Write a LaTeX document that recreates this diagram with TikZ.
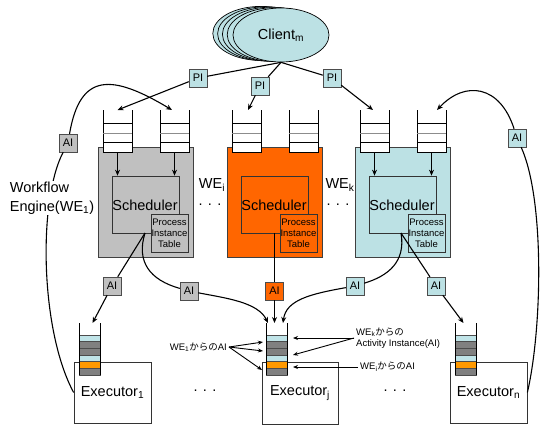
\documentclass[tikz,border=0pt]{standalone}
\usepackage{fontspec}
\setmainfont{Liberation Sans}
\newfontfamily\jpfont{Noto Sans CJK JP}
\usetikzlibrary{arrows.meta,shapes.geometric}

\definecolor{wegray}{HTML}{C0C0C0}
\definecolor{weorange}{HTML}{FF6600}
\definecolor{wecyan}{HTML}{BCE1E4}
\definecolor{cellgray}{HTML}{808080}
\definecolor{cellorange}{HTML}{FF9900}
\definecolor{cellcyan}{HTML}{C0E4E8}

\tikzset{
  tag/.style={draw=black!70, fill=#1, minimum width=18pt, minimum height=18pt,
    inner sep=0pt, font=\fontsize{11}{11}\selectfont},
  tag/.default=wegray,
  wire/.style={line width=1.1pt},
  arr/.style={line width=1.1pt, -{Stealth[length=6pt,width=5pt]}},
  noteArr/.style={line width=0.9pt, -{Stealth[length=5pt,width=4pt]}},
  big/.style={font=\fontsize{14.5}{16}\selectfont},
  note/.style={font=\fontsize{9.5}{11}\selectfont, inner sep=2pt},
}

% input queue above an engine: left edge, name
\newcommand{\inqueue}[2]{%
  \filldraw[fill=white, draw=black, line width=0.8pt] (#1,123) rectangle ++(29,29);
  \draw[line width=0.8pt] (#1,110) -- (#1,152) (#1+29,110) -- (#1+29,152);
  \draw[black!45, line width=0.8pt] (#1,133) -- ++(29,0);
  \draw[line width=0.8pt] (#1,142) -- ++(29,0);
  \coordinate (#2-top) at (#1+14.5,110);
  \coordinate (#2-bot) at (#1+14.5,152);
}

% activity queue on an executor: left edge, name
\newcommand{\exqueue}[2]{%
  \foreach \col [count=\k from 0] in {cellcyan,cellgray,cellgray,cellcyan,cellorange,cellgray}
    \filldraw[fill=\col, draw=black!70, line width=0.5pt] (#1,335+6.67*\k) rectangle ++(21,6.67);
  \draw[line width=0.8pt] (#1,323) -- (#1,375) (#1+21,323) -- (#1+21,375);
  \coordinate (#2-top) at (#1+10.5,323);
}

\begin{document}
\begin{tikzpicture}[x=1pt,y=-1pt]
\useasboundingbox (0,0) rectangle (540,426);

% clients
\foreach \d in {4,3,2,1}
  \filldraw[fill=wecyan, draw=black, line width=0.7pt] (280-4.8*\d,35-0.4*\d) ellipse (48 and 27);
\node[ellipse, draw=black, line width=0.7pt, fill=wecyan, minimum width=96pt, minimum height=54pt,
  inner sep=0pt, big] (client) at (281,35) {Client\textsubscript{m}};

% workflow engines
\foreach \x/\col/\n in {98/wegray/1, 227/weorange/i, 355/wecyan/k} {
  \filldraw[fill=\col, draw=black!75, line width=0.7pt] (\x,147) rectangle ++(95,110);
  \inqueue{\x+5}{q\n a}
  \inqueue{\x+62}{q\n b}
  \node[draw=black!80, line width=0.7pt, fill=\col, minimum width=67pt, minimum height=57pt,
    inner sep=0pt, big] (sched\n) at (\x+47.5,204.5) {};
  \node[big] (schedtext\n) at (\x+47,205) {Scheduler};
  \node[draw=black!80, line width=0.7pt, fill=\col, minimum width=37pt, minimum height=38pt,
    inner sep=0pt, align=center, font=\fontsize{9.5}{11}\selectfont] (pit\n) at (\x+71.5,233)
    {Process\\Instance\\Table};
}
\draw[arr] (q1a-bot) -- (q1a-bot |- sched1.north);
\draw[arr] (q1b-bot) -- (q1b-bot |- sched1.north);
\draw[arr] (qka-bot) -- (qka-bot |- schedk.north);
\draw[arr] (qkb-bot) -- (qkb-bot |- schedk.north);

\node[big] (labi) at (212,185) {WE\textsubscript{i}};
\node[big] (labk) at (340,185) {WE\textsubscript{k}};
\node[big] (dots1) at (210,205) {. . .};
\node[big] (dots2) at (338,205) {. . .};

% process instances from the client
\node[tag=wecyan] (pi1) at (198,78) {PI};
\node[tag=wecyan] (pi2) at (260,86) {PI};
\node[tag=wecyan] (pi3) at (332,78) {PI};
\draw[wire] (client.south) -- (pi1);
\draw[wire] (client.south) -- (pi2);
\draw[wire] (client.south) -- (pi3);
\draw[arr] (pi1) -- (q1a-top);
\draw[arr] (pi2) -- ([xshift=1.5pt]qia-top);
\draw[arr] (pi3) -- ([xshift=-1.5pt]qka-top);

% executors
\node[draw=black!80, line width=0.7pt, minimum width=77pt, minimum height=61pt, big] (ex1) at (112.5,392.5) {Executor\textsubscript{1}};
\node[draw=black!80, line width=0.7pt, minimum width=76pt, minimum height=62pt, big] (exj) at (300,393) {Executor\textsubscript{j}};
\node[draw=black!80, line width=0.7pt, minimum width=77pt, minimum height=61pt, big] (exn) at (488.5,392.5) {Executor\textsubscript{n}};
\exqueue{79}{e1}
\exqueue{266}{ej}
\exqueue{455}{en}
\node[big] (dots3) at (205,391) {. . .};
\node[big] (dots4) at (395,391) {. . .};

% activity instances to the executors
\coordinate (s1) at (145,233);
\coordinate (si) at (274.5,233);
\coordinate (sk) at (401,233);
\node[tag] (ai1a) at (112,286) {AI};
\node[tag] (ai1b) at (189,291) {AI};
\node[tag=weorange] (aii) at (274.5,291) {AI};
\node[tag=wecyan] (aika) at (355,286) {AI};
\node[tag=wecyan] (aikb) at (436,286) {AI};

\draw[wire] (s1) -- (ai1a);
\draw[arr] (ai1a) -- ([xshift=3pt]e1-top);
\draw[wire] (s1) .. controls (136,262) and (150,280) .. (ai1b);
\draw[arr] (ai1b) .. controls (225,298) and (258,302) .. ([xshift=-8.5pt]ej-top);
\draw[wire] (si) -- (aii);
\draw[arr] (aii) -- ([xshift=-2pt]ej-top);
\draw[wire] (sk) .. controls (406,262) and (388,276) .. (aika);
\draw[arr] (aika) .. controls (310,294) and (286,300) .. ([xshift=6.5pt]ej-top);
\draw[wire] (sk) -- (aikb);
\draw[arr] (aikb) -- ([xshift=-2pt]en-top);

% results going back to the engines
\node[tag] (ail) at (68,143) {AI};
\node[tag=wecyan] (air) at (517,138) {AI};
\draw[wire] (ex1.west) .. controls (40,330) and (38,200) .. (ail);
\draw[arr] (ail) .. controls (80,72) and (112,74) .. ([xshift=-2.5pt]q1b-top);
\draw[wire] (exn.east) .. controls (542,330) and (545,200) .. (air);
\draw[arr] (air) .. controls (500,85) and (465,80) .. ([xshift=5.5pt]qkb-top);

\node[align=left, fill=white, inner sep=1pt, font=\fontsize{14.5}{19}\selectfont] (wflabel) at (52,198)
  {Workflow\\Engine(WE\textsubscript{1})};

% notes on the queue of executor j
\node[note, anchor=east] (n1) at (229,347) {WE\textsubscript{1}{\jpfont からの}AI};
\coordinate (t1) at (263,342);
\coordinate (t2) at (263,351);
\coordinate (t3) at (262,370);
\draw[noteArr] (n1.east) -- (t1);
\draw[noteArr] (n1.east) -- (t2);
\draw[noteArr] (n1.east) -- (t3);

\node[note, anchor=west, align=left] (n2) at (354,338) {WE\textsubscript{k}{\jpfont からの}\\Activity Instance(AI)};
\coordinate (t4) at (293,338);
\coordinate (t5) at (293,355);
\draw[noteArr] (n2.west) -- (t4);
\draw[noteArr] (n2.west) -- (t5);

\node[note, anchor=west] (n3) at (358,367) {WE\textsubscript{i}{\jpfont からの}AI};
\coordinate (t6) at (293,367);
\draw[noteArr] (n3.west) -- (t6);
\end{tikzpicture}
\end{document}
